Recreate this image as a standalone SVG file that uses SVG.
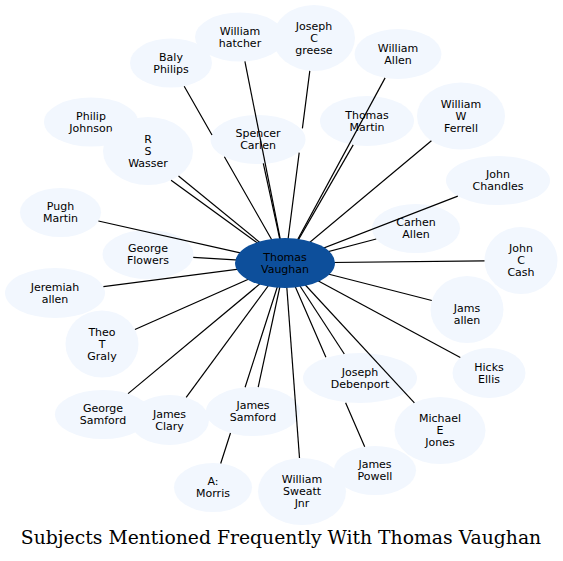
<svg xmlns="http://www.w3.org/2000/svg" width="563" height="561" viewBox="0 0 563 561">
<style>
.n ellipse{fill:#f2f7fe;stroke:none}
.n text,.c text{font-family:"DejaVu Sans",Verdana,sans-serif;font-size:11px;fill:#000;text-anchor:middle}
.c ellipse{fill:#0d4f9b;stroke:none}
#edges path{stroke:#000;stroke-width:1.2;fill:none}
.title{font-family:"DejaVu Serif",serif;font-size:18.8px;fill:#000;text-anchor:middle}
</style>
<rect width="563" height="561" fill="#fff"/>
<g id="n-hatcher" class="n"><ellipse cx="240" cy="37" rx="45" ry="24.5"/><text x="240" y="34.5">William</text><text x="240" y="46.5">hatcher</text></g>
<g id="n-greese" class="n"><ellipse cx="314" cy="38" rx="41" ry="33"/><text x="314" y="29.5">Joseph</text><text x="314" y="41.5">C</text><text x="314" y="53.5">greese</text></g>
<g id="n-baly" class="n"><ellipse cx="171" cy="63" rx="41" ry="24.5"/><text x="171" y="60.5">Baly</text><text x="171" y="72.5">Philips</text></g>
<g id="n-johnson" class="n"><ellipse cx="91" cy="122" rx="47" ry="24.5"/><text x="91" y="119.5">Philip</text><text x="91" y="131.5">Johnson</text></g>
<g id="n-wasser" class="n"><ellipse cx="148" cy="151" rx="45" ry="34"/><text x="148" y="142.5">R</text><text x="148" y="154.5">S</text><text x="148" y="166.5">Wasser</text></g>
<g id="n-spencer" class="n"><ellipse cx="258" cy="139.5" rx="47.5" ry="24.5"/><text x="258" y="137">Spencer</text><text x="258" y="149">Carlen</text></g>
<g id="n-wallen" class="n"><ellipse cx="398" cy="54" rx="43.5" ry="25"/><text x="398" y="51.5">William</text><text x="398" y="63.5">Allen</text></g>
<g id="n-tmartin" class="n"><ellipse cx="367" cy="121" rx="47" ry="25"/><text x="367" y="118.5">Thomas</text><text x="367" y="130.5">Martin</text></g>
<g id="n-ferrell" class="n"><ellipse cx="461" cy="116" rx="44" ry="33.5"/><text x="461" y="107.5">William</text><text x="461" y="119.5">W</text><text x="461" y="131.5">Ferrell</text></g>
<g id="n-chandles" class="n"><ellipse cx="498" cy="180.5" rx="52" ry="24.5"/><text x="498" y="178">John</text><text x="498" y="190">Chandles</text></g>
<g id="n-carhen" class="n"><ellipse cx="416" cy="228.5" rx="44" ry="24.5"/><text x="416" y="226">Carhen</text><text x="416" y="238">Allen</text></g>
<g id="n-cash" class="n"><ellipse cx="521" cy="260.5" rx="36.5" ry="33.5"/><text x="521" y="252">John</text><text x="521" y="264">C</text><text x="521" y="276">Cash</text></g>
<g id="n-jams" class="n"><ellipse cx="467" cy="309.5" rx="36.5" ry="33.5"/><text x="467" y="311.5">Jams</text><text x="467" y="323.5">allen</text></g>
<g id="n-hicks" class="n"><ellipse cx="489" cy="373" rx="36.5" ry="25"/><text x="489" y="370.5">Hicks</text><text x="489" y="382.5">Ellis</text></g>
<g id="n-mjones" class="n"><ellipse cx="440" cy="430.5" rx="45.5" ry="33.5"/><text x="440" y="422">Michael</text><text x="440" y="434">E</text><text x="440" y="446">Jones</text></g>
<g id="n-powell" class="n"><ellipse cx="375" cy="470.5" rx="41" ry="24.5"/><text x="375" y="468">James</text><text x="375" y="480">Powell</text></g>
<g id="n-sweatt" class="n"><ellipse cx="302" cy="491.5" rx="44" ry="33.5"/><text x="302" y="483">William</text><text x="302" y="495">Sweatt</text><text x="302" y="507">Jnr</text></g>
<g id="n-debenport" class="n"><ellipse cx="360" cy="378" rx="57" ry="25"/><text x="360" y="375.5">Joseph</text><text x="360" y="387.5">Debenport</text></g>
<g id="n-jsamford" class="n"><ellipse cx="253" cy="411.5" rx="47" ry="24.5"/><text x="253" y="409">James</text><text x="253" y="421">Samford</text></g>
<g id="n-morris" class="n"><ellipse cx="213" cy="487.5" rx="39" ry="24.5"/><text x="213" y="485">A:</text><text x="213" y="497">Morris</text></g>
<g id="n-clary" class="n"><ellipse cx="169.5" cy="420" rx="39.5" ry="25"/><text x="169.5" y="417.5">James</text><text x="169.5" y="429.5">Clary</text></g>
<g id="n-gsamford" class="n"><ellipse cx="103" cy="414.5" rx="48" ry="24.5"/><text x="103" y="412">George</text><text x="103" y="424">Samford</text></g>
<g id="n-theo" class="n"><ellipse cx="102" cy="344" rx="36.5" ry="33.5"/><text x="102" y="335.5">Theo</text><text x="102" y="347.5">T</text><text x="102" y="359.5">Graly</text></g>
<g id="n-jeremiah" class="n"><ellipse cx="55" cy="293" rx="50" ry="25"/><text x="55" y="290.5">Jeremiah</text><text x="55" y="302.5">allen</text></g>
<g id="n-flowers" class="n"><ellipse cx="148" cy="254.5" rx="45.5" ry="24.5"/><text x="148" y="252">George</text><text x="148" y="264">Flowers</text></g>
<g id="n-pugh" class="n"><ellipse cx="60.5" cy="212.5" rx="40.5" ry="24.5"/><text x="60.5" y="210">Pugh</text><text x="60.5" y="222">Martin</text></g>
<g id="edges">
<path d="M244.9,61.4L285,263"/>
<path d="M184.2,86.2L212,135M224.4,156.7L285,263"/>
<path d="M171.1,180.2L285,263"/>
<path d="M178.5,176L285,263"/>
<path d="M263.3,163.3L285,263"/>
<path d="M309.8,70.8L302.4,128.3M299.2,152.7L285,263"/>
<path d="M385.1,77.9L285,263"/>
<path d="M353.2,144.9L285,263"/>
<path d="M431.4,140.8L285,263"/>
<path d="M457.8,196.1L285,263"/>
<path d="M376.2,239L285,263"/>
<path d="M484.5,260.9L285,263"/>
<path d="M431.8,300.5L285,263"/>
<path d="M460.3,357.5L285,263"/>
<path d="M414.4,402.8L285,263"/>
<path d="M364.7,446.8L345.6,402.7M325.9,357.3L285,263"/>
<path d="M344.3,354L285,263"/>
<path d="M299.5,458L285,263"/>
<path d="M258.2,387.1L285,263"/>
<path d="M220.7,463.5L230.5,433M245.1,387.3L285,263"/>
<path d="M186.2,397.3L285,263"/>
<path d="M128.1,393.6L285,263"/>
<path d="M134.9,329.5L285,263"/>
<path d="M103.4,286.7L285,263"/>
<path d="M193.2,257.3L285,263"/>
<path d="M98.4,221L285,263"/>
</g>
<g id="n-center" class="c"><ellipse cx="285" cy="263" rx="50" ry="25"/><text x="285" y="260.5">Thomas</text><text x="285" y="272.5">Vaughan</text></g>
<text class="title" x="281" y="544">Subjects Mentioned Frequently With Thomas Vaughan</text>
</svg>
